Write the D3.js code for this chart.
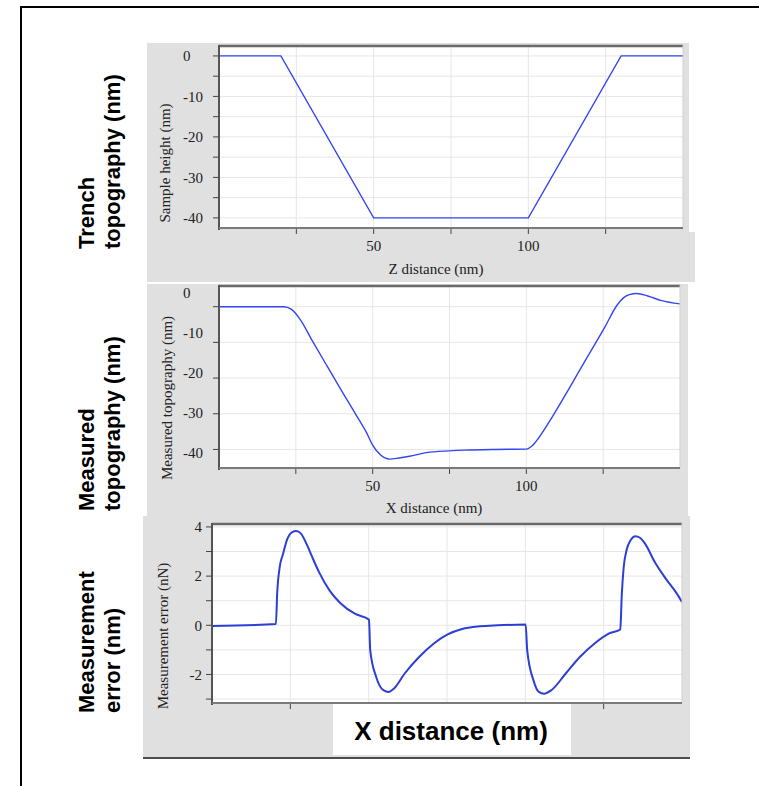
<!DOCTYPE html>
<html><head><meta charset="utf-8">
<script src="https://cdn.jsdelivr.net/npm/d3@7"></script>
<style>
html,body{margin:0;padding:0;background:#fff;}
svg{display:block;}
.serif{font-family:"Liberation Serif","Times New Roman",serif;fill:#222;}
.bold{font-family:"Liberation Sans",Arial,sans-serif;font-weight:bold;fill:#000;}
</style></head><body>
<svg id="fig" width="759" height="786"></svg>
<script>
// Ideal trench profile (nm)
const trenchX = [0, 20, 50, 100, 130, 150];
const trenchY = [0, 0, -40, -40, 0, 0];

// Measured topography (nm)
const measX = [0, 21, 23.5, 26.5, 30, 35, 40, 44.5, 48, 50, 52.5, 55.5, 58.5, 62, 67.5, 75, 80, 90, 100, 102, 104, 108, 114, 119.5, 125.5, 129.5, 131.5, 133.5, 136, 139.5, 144, 150];
const measY = [0, 0, -0.7, -3.7, -9, -16.4, -23.7, -30.2, -35.3, -38.8, -41.5, -42.7, -42.4, -41.9, -40.9, -40.4, -40.2, -40, -39.9, -38.9, -36.8, -31.5, -22.8, -14.6, -5.8, 0.4, 2.4, 3.4, 3.7, 3.0, 1.7, 0.8];

// Measurement error (nN)
const errX = [0, 20.4, 20.8, 21.6, 22.7, 23.9, 25.6, 26.9, 28.4, 30.2, 31.9, 34.2, 37.6, 41, 45.6, 50.1, 50.5, 52.4, 54.7, 56.4, 58.1, 61.5, 66.1, 70.7, 75.2, 79.8, 85.5, 91.2, 100.1, 100.6, 102.6, 104.3, 106, 108.3, 112.9, 117.4, 122, 126.6, 130.3, 130.8, 131.4, 132.3, 133.7, 135.1, 136.6, 138.2, 141.4, 144.8, 148.3, 150];
const errY = [-0.03, 0.05, 1.29, 2.37, 2.91, 3.46, 3.79, 3.83, 3.73, 3.3, 2.8, 2.15, 1.4, 0.9, 0.47, 0.23, -1.02, -2.1, -2.64, -2.71, -2.57, -1.96, -1.29, -0.75, -0.37, -0.15, -0.04, 0, 0.03, -1.02, -2.24, -2.71, -2.78, -2.64, -1.96, -1.29, -0.75, -0.34, -0.17, 1.29, 2.37, 3.05, 3.48, 3.62, 3.56, 3.32, 2.55, 1.9, 1.3, 0.95];

// Axis ticks and labels
const xTicks = [25, 50, 75, 100, 125];
const xTickLabels = ["", "50", "", "100", ""];
const trenchYTicks = [0, -5, -10, -15, -20, -25, -30, -35, -40];
const trenchYLabels = ["0", "", "-10", "", "-20", "", "-30", "", "-40"];
const measYTicks = [0, -10, -20, -30, -40];
const measYLabels = ["0", "-10", "-20", "-30", "-40"];
const errYTicks = [4, 3, 2, 1, 0, -1, -2, -3];
const errYLabels = ["4", "", "2", "", "0", "", "-2", ""];

// Axis titles and row captions
const titles = {
  trench: {y: "Sample height (nm)", x: "Z distance (nm)"},
  meas: {y: "Measured topography  (nm)", x: "X distance (nm)"},
  err: {y: "Measurement error (nN)", x: "X distance (nm)"}
};
const captions = [["Trench", "topography (nm)"], ["Measured", "topography (nm)"], ["Measurement", "error (nm)"]];

const svg = d3.select("#fig");
const blue = "#3246f0";

// outer frame
svg.append("line").attr("x1", 21).attr("x2", 759).attr("y1", 7).attr("y2", 7).attr("stroke", "#000").attr("stroke-width", 2);
svg.append("line").attr("x1", 21).attr("x2", 21).attr("y1", 6).attr("y2", 786).attr("stroke", "#000").attr("stroke-width", 2);

function drawPanel(o) {
  const g = svg.append("g");
  // gray background
  o.bg.forEach(r => g.append("rect").attr("x", r[0]).attr("y", r[1]).attr("width", r[2] - r[0]).attr("height", r[3] - r[1]).attr("fill", "#e0e0e0"));
  const p = o.plot;
  const x = d3.scaleLinear().domain([0, 150]).range([p.x0, p.x1]);
  const y = d3.scaleLinear().domain(o.yDomain).range([p.y0, p.y1]);
  g.append("rect").attr("x", p.x0).attr("y", p.y0).attr("width", p.x1 - p.x0).attr("height", p.y1 - p.y0).attr("fill", "#fff");
  // grid
  g.append("g").selectAll("line").data(o.yGrid).join("line")
    .attr("x1", p.x0).attr("x2", p.x1).attr("y1", d => y(d)).attr("y2", d => y(d))
    .attr("stroke", "#e6e6e6").attr("stroke-width", 1);
  g.append("g").selectAll("line").data(xTicks).join("line")
    .attr("y1", p.y0).attr("y2", p.y1).attr("x1", d => x(d)).attr("x2", d => x(d))
    .attr("stroke", "#e6e6e6").attr("stroke-width", 1);
  // data line
  const clipId = "clip" + o.id;
  svg.append("clipPath").attr("id", clipId).append("rect")
    .attr("x", p.x0).attr("y", p.y0).attr("width", p.x1 - p.x0).attr("height", p.y1 - p.y0);
  const line = d3.line().x(d => x(d[0])).y(d => y(d[1])).curve(o.curve);
  g.append("path").datum(d3.zip(o.xs, o.ys)).attr("d", line)
    .attr("fill", "none").attr("stroke", o.color).attr("stroke-width", o.lw)
    .attr("stroke-linejoin", "round").attr("clip-path", `url(#${clipId})`);
  // frame
  g.append("line").attr("x1", p.x0).attr("x2", p.x1).attr("y1", p.y0 + 1).attr("y2", p.y0 + 1).attr("stroke", "#6a6a6a").attr("stroke-width", 2.5);
  g.append("line").attr("x1", p.x1).attr("x2", p.x1).attr("y1", p.y0).attr("y2", p.y1).attr("stroke", "#cfcfcf").attr("stroke-width", 1);
  // y axis
  const ya = g.append("g").attr("transform", `translate(${p.x0},0)`);
  ya.append("line").attr("y1", p.y0).attr("y2", p.y1 + 2).attr("stroke", "#555").attr("stroke-width", 2);
  ya.selectAll("line.t").data(o.yTicks).join("line").attr("class", "t")
    .attr("x1", -6).attr("x2", 0).attr("y1", d => y(d)).attr("y2", d => y(d)).attr("stroke", "#444").attr("stroke-width", 1);
  const ly = o.labelY ? o.labelY(y) : y;
  ya.selectAll("text").data(o.yTicks.map((d, i) => [d, o.yLabels[i]]).filter(d => d[1])).join("text")
    .attr("class", "serif").attr("font-size", 15)
    .attr("x", o.yLabelX).attr("y", d => ly(d[0])).attr("dy", "0.35em")
    .attr("text-anchor", o.yLabelAnchor).text(d => d[1]);
  // x axis
  const xa = g.append("g").attr("transform", `translate(0,${p.y1})`);
  xa.append("line").attr("x1", p.x0).attr("x2", p.x1).attr("stroke", "#7a7a7a").attr("stroke-width", 2);
  xa.selectAll("line.t").data(xTicks).join("line").attr("class", "t")
    .attr("x1", d => x(d)).attr("x2", d => x(d)).attr("y1", 1).attr("y2", 6).attr("stroke", "#444");
  if (o.xLabels) {
    xa.selectAll("text").data(xTicks.map((d, i) => [d, xTickLabels[i]]).filter(d => d[1])).join("text")
      .attr("class", "serif").attr("font-size", 15)
      .attr("x", d => x(d[0])).attr("y", 23).attr("text-anchor", "middle").text(d => d[1]);
    g.append("text").attr("class", "serif").attr("font-size", 15)
      .attr("x", o.xTitlePos[0]).attr("y", o.xTitlePos[1]).attr("text-anchor", "middle").text(o.titles.x);
  }
  g.append("text").attr("class", "serif").attr("font-size", 15).attr("text-anchor", "middle")
    .attr("transform", `translate(${o.yTitlePos[0]},${o.yTitlePos[1]}) rotate(-90)`).attr("dy", "0.35em")
    .text(o.titles.y);
  // row caption
  o.caption.forEach((t, i) => {
    svg.append("text").attr("class", "bold").attr("font-size", 22)
      .attr("transform", `translate(${86 + i * 26},${o.captionY}) rotate(-90)`).attr("dy", "0.35em")
      .attr("text-anchor", "start").text(t);
  });
  return {g, x, y, p};
}

drawPanel({
  id: 1, bg: [[147, 43, 689, 282], [147, 232, 695, 282]],
  plot: {x0: 219, x1: 683, y0: 45, y1: 228}, yDomain: [2.7, -42.5],
  yGrid: trenchYTicks, yTicks: trenchYTicks, yLabels: trenchYLabels,
  yLabelX: -36, yLabelAnchor: "start",
  xs: trenchX, ys: trenchY, curve: d3.curveLinear, color: blue, lw: 1.3,
  xLabels: true, xTitlePos: [436, 274], yTitlePos: [165, 163],
  titles: titles.trench, caption: captions[0], captionY: 249
});

drawPanel({
  id: 2, bg: [[147, 284, 688, 517]],
  plot: {x0: 219, x1: 680, y0: 285, y1: 468}, yDomain: [6.08, -45.2],
  yGrid: measYTicks, yTicks: measYTicks, yLabels: measYLabels,
  yLabelX: -36, yLabelAnchor: "start",
  labelY: y => d3.scaleLinear().domain([0, -40]).range([y(0) - 14, y(-40) + 3]),
  xs: measX, ys: measY, curve: d3.curveMonotoneX, color: blue, lw: 1.4,
  xLabels: true, xTitlePos: [434, 513], yTitlePos: [167, 398],
  titles: titles.meas, caption: captions[1], captionY: 511
});

drawPanel({
  id: 3, bg: [[143, 516, 690, 757]],
  plot: {x0: 212, x1: 682, y0: 523, y1: 703}, yDomain: [4.16, -3.16],
  yGrid: errYTicks, yTicks: errYTicks, yLabels: errYLabels,
  yLabelX: -10, yLabelAnchor: "end",
  xs: errX, ys: errY, curve: d3.curveMonotoneX, color: "#2b3fd6", lw: 2,
  xLabels: false, yTitlePos: [163, 636],
  titles: titles.err, caption: captions[2], captionY: 713
});

// bottom axis caption on a white card
svg.append("rect").attr("x", 333).attr("y", 704).attr("width", 238).attr("height", 51).attr("fill", "#fff");
svg.append("text").attr("class", "bold").attr("font-size", 26).attr("x", 451).attr("y", 740)
  .attr("text-anchor", "middle").text(titles.err.x);
// closing rule under the lower panel
svg.append("line").attr("x1", 143).attr("x2", 690).attr("y1", 758).attr("y2", 758).attr("stroke", "#111").attr("stroke-width", 1.5);
</script>
</body></html>
